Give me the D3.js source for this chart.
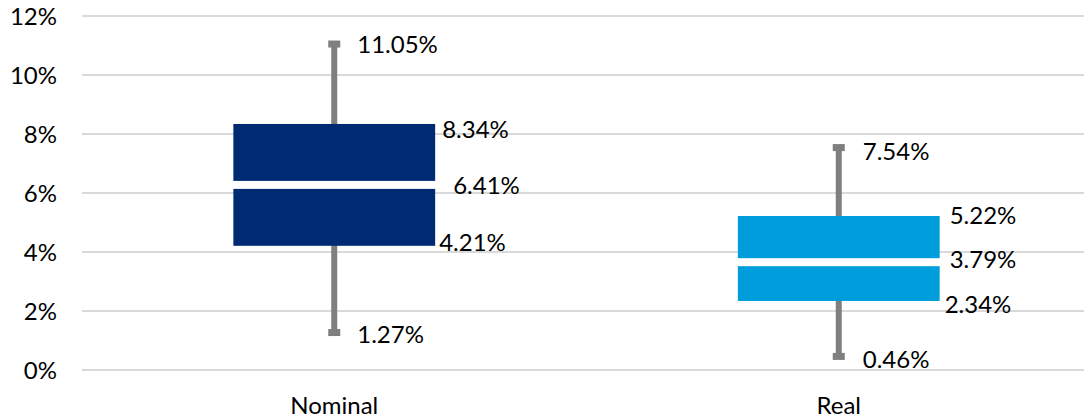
<!DOCTYPE html>
<html>
<head>
<meta charset="utf-8">
<script src="https://cdn.jsdelivr.net/npm/d3@7"></script>
<style>
  html, body { margin: 0; padding: 0; background: #ffffff; }
  svg { display: block; }
  text { font-family: Lato, "Open Sans", sans-serif; fill: #000000; }
</style>
</head>
<body>
<svg id="chart" width="1084" height="419"></svg>
<script>
// Return distributions: whiskers (min/max), box (Q1..Q3) and median, in percent
const categories   = ["Nominal", "Real"];
const minValues    = [1.27, 0.46];
const q1Values     = [4.21, 2.34];
const medianValues = [6.41, 3.79];
const q3Values     = [8.34, 5.22];
const maxValues    = [11.05, 7.54];
const yTickValues  = [0, 2, 4, 6, 8, 10, 12];

const boxColors = { Nominal: "#002b73", Real: "#009ddc" };

// Label nudges (dx from anchor, dy from value position), per category
const labelNudge = {
  Nominal: { max: [23, 0.5], min: [23, 1.5], q3: [7, 5], median: [18, 4], q1: [4, -3] },
  Real:    { max: [24, 3.5], min: [24, 3.3], q3: [10, -1], median: [10, 1], q1: [5, 3] }
};

const width = 1084, height = 419;
const fontSize = 24;
const svg = d3.select("#chart");

const y = d3.scaleLinear().domain([0, 12]).range([370, 16]);
const x = d3.scaleBand().domain(categories).range([82, 1091]).padding(0);
const boxW = x.bandwidth() * 0.4;
const fmt = v => v.toFixed(2) + "%";

// Horizontal gridlines
svg.append("g")
  .selectAll("line")
  .data(yTickValues)
  .join("line")
  .attr("x1", 82).attr("x2", width)
  .attr("y1", d => y(d)).attr("y2", d => y(d))
  .attr("stroke", "#d9d9d9")
  .attr("stroke-width", 2);

// Y axis labels
const yAxis = d3.axisLeft(y).tickValues(yTickValues).tickFormat(d => d + "%").tickSize(0).tickPadding(0);
const gy = svg.append("g").attr("transform", "translate(57,0)").call(yAxis);
gy.select(".domain").remove();
gy.selectAll("text")
  .attr("font-size", fontSize)
  .attr("font-family", "Lato, 'Open Sans', sans-serif")
  .attr("fill", "#000")
  .attr("dy", "0.36em");

// X axis labels
const xAxis = d3.axisBottom(x).tickSize(0).tickPadding(0);
const gx = svg.append("g").attr("transform", "translate(0,405)").call(xAxis);
gx.select(".domain").remove();
gx.selectAll("text")
  .attr("font-size", fontSize)
  .attr("font-family", "Lato, 'Open Sans', sans-serif")
  .attr("fill", "#000")
  .attr("y", 0)
  .attr("dy", "0.36em");

const rows = categories.map((c, i) => ({
  cat: c, min: minValues[i], q1: q1Values[i], median: medianValues[i], q3: q3Values[i], max: maxValues[i]
}));

const g = svg.append("g");
const cx = d => x(d.cat) + x.bandwidth() / 2;

// Whiskers
g.selectAll(".whisker")
  .data(rows)
  .join("rect")
  .attr("class", "whisker")
  .attr("x", d => cx(d) - 3)
  .attr("width", 6)
  .attr("y", d => y(d.max))
  .attr("height", d => y(d.min) - y(d.max))
  .attr("fill", "#7f7f7f");

// Whisker caps
["min", "max"].forEach(k => {
  g.selectAll(".cap-" + k)
    .data(rows)
    .join("rect")
    .attr("class", "cap-" + k)
    .attr("x", d => cx(d) - 6)
    .attr("width", 12)
    .attr("y", d => y(d[k]) - 3.5)
    .attr("height", 7)
    .attr("fill", "#7f7f7f");
});

// Boxes
g.selectAll(".box")
  .data(rows)
  .join("rect")
  .attr("class", "box")
  .attr("x", d => cx(d) - boxW / 2)
  .attr("width", boxW)
  .attr("y", d => y(d.q3))
  .attr("height", d => y(d.q1) - y(d.q3))
  .attr("fill", d => boxColors[d.cat]);

// Median separator
g.selectAll(".median")
  .data(rows)
  .join("rect")
  .attr("class", "median")
  .attr("x", d => cx(d) - boxW / 2 - 1)
  .attr("width", boxW + 2)
  .attr("y", d => y(d.median))
  .attr("height", 8)
  .attr("fill", "#ffffff");

// Value labels
const labels = [];
rows.forEach(d => {
  const n = labelNudge[d.cat];
  const right = cx(d) + boxW / 2;
  labels.push({ v: d.max, x: cx(d) + n.max[0], y: y(d.max) + n.max[1] });
  labels.push({ v: d.min, x: cx(d) + n.min[0], y: y(d.min) + n.min[1] });
  labels.push({ v: d.q3, x: right + n.q3[0], y: y(d.q3) + n.q3[1] });
  labels.push({ v: d.median, x: right + n.median[0], y: y(d.median) + n.median[1] });
  labels.push({ v: d.q1, x: right + n.q1[0], y: y(d.q1) + n.q1[1] });
});

g.selectAll(".vlabel")
  .data(labels)
  .join("text")
  .attr("class", "vlabel")
  .attr("x", d => d.x)
  .attr("y", d => d.y)
  .attr("dy", "0.36em")
  .attr("font-size", fontSize)
  .text(d => fmt(d.v));
</script>
</body>
</html>
